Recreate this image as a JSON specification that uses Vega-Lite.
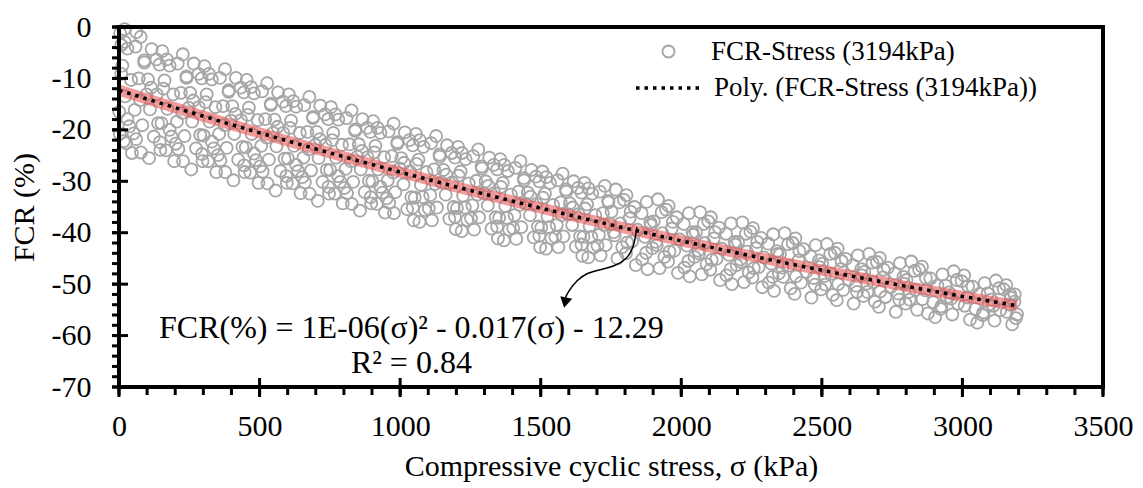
{
  "$schema": "https://vega.github.io/schema/vega-lite/v6.json",
  "width": 984,
  "height": 360,
  "autosize": {"type": "none"},
  "padding": {"left": 119, "top": 27, "right": 40, "bottom": 101},
  "config": {
    "view": {"stroke": null},
    "axis": {"labelFont": "Liberation Serif", "titleFont": "Liberation Serif", "labelColor": "black", "titleColor": "black", "grid": false, "titleFontWeight": "normal", "ticks": false, "domain": false},
    "legend": {"labelFont": "Liberation Serif", "labelColor": "black", "padding": 0, "labelLimit": 0}
  },
  "datasets": {
    "pts": [
      {"s":4,"f":-1.2},{"s":30,"f":-4.2},{"s":12,"f":-7.5},{"s":43,"f":-10.3},{"s":22,"f":-13.5},{"s":1,"f":-16.5},{"s":37,"f":-19.3},{"s":17,"f":-22.2},{"s":46,"f":-24.5},
      {"s":20,"f":-0.4},{"s":62,"f":-1.0},{"s":8,"f":-3.5},{"s":3,"f":-20.8},{"s":25,"f":-22.6},
      {"s":77,"f":-1.9},{"s":59,"f":-3.8},{"s":90,"f":-6.9},{"s":70,"f":-10.0},{"s":98,"f":-13.1},{"s":56,"f":-16.1},{"s":83,"f":-19.1},{"s":61,"f":-21.8},{"s":78,"f":-24.4},
      {"s":116,"f":-4.3},{"s":144,"f":-7.3},{"s":103,"f":-10.2},{"s":134,"f":-13.1},{"s":110,"f":-16.0},{"s":139,"f":-18.7},{"s":124,"f":-21.3},{"s":147,"f":-23.9},{"s":107,"f":-25.5},
      {"s":154,"f":-4.7},{"s":180,"f":-7.5},{"s":162,"f":-10.4},{"s":193,"f":-13.1},{"s":172,"f":-15.9},{"s":151,"f":-18.7},{"s":187,"f":-21.3},{"s":167,"f":-24.0},{"s":196,"f":-26.1},
      {"s":227,"f":-5.3},{"s":209,"f":-7.1},{"s":240,"f":-9.9},{"s":220,"f":-12.8},{"s":248,"f":-15.7},{"s":206,"f":-18.4},{"s":233,"f":-21.2},{"s":211,"f":-23.7},{"s":228,"f":-26.1},
      {"s":266,"f":-7.1},{"s":294,"f":-10.0},{"s":253,"f":-12.8},{"s":284,"f":-15.6},{"s":260,"f":-18.4},{"s":289,"f":-21.0},{"s":274,"f":-23.6},{"s":297,"f":-26.1},{"s":257,"f":-27.7},
      {"s":304,"f":-7.6},{"s":330,"f":-10.2},{"s":312,"f":-13.1},{"s":343,"f":-15.6},{"s":322,"f":-18.4},{"s":301,"f":-21.1},{"s":337,"f":-23.6},{"s":317,"f":-26.1},{"s":346,"f":-28.2},
      {"s":377,"f":-8.2},{"s":359,"f":-9.9},{"s":390,"f":-12.6},{"s":370,"f":-15.4},{"s":398,"f":-18.2},{"s":356,"f":-20.8},{"s":383,"f":-23.5},{"s":361,"f":-25.9},{"s":378,"f":-28.2},
      {"s":416,"f":-9.9},{"s":444,"f":-12.7},{"s":403,"f":-15.4},{"s":434,"f":-18.1},{"s":410,"f":-20.8},{"s":439,"f":-23.3},{"s":424,"f":-25.8},{"s":447,"f":-28.2},{"s":407,"f":-29.8},
      {"s":454,"f":-10.3},{"s":480,"f":-12.9},{"s":462,"f":-15.7},{"s":493,"f":-18.1},{"s":472,"f":-20.8},{"s":451,"f":-23.4},{"s":487,"f":-25.9},{"s":467,"f":-28.3},{"s":496,"f":-30.3},
      {"s":527,"f":-10.9},{"s":509,"f":-12.5},{"s":540,"f":-15.2},{"s":520,"f":-17.9},{"s":548,"f":-20.6},{"s":506,"f":-23.1},{"s":533,"f":-25.8},{"s":511,"f":-28.1},{"s":528,"f":-30.4},
      {"s":566,"f":-12.7},{"s":594,"f":-15.4},{"s":553,"f":-18.0},{"s":584,"f":-20.6},{"s":560,"f":-23.2},{"s":589,"f":-25.6},{"s":574,"f":-28.0},{"s":597,"f":-30.3},{"s":557,"f":-31.8},
      {"s":604,"f":-13.1},{"s":630,"f":-15.5},{"s":612,"f":-18.2},{"s":643,"f":-20.6},{"s":622,"f":-23.1},{"s":601,"f":-25.6},{"s":637,"f":-28.0},{"s":617,"f":-30.4},{"s":646,"f":-32.3},
      {"s":677,"f":-13.6},{"s":659,"f":-15.2},{"s":690,"f":-17.7},{"s":670,"f":-20.4},{"s":698,"f":-22.9},{"s":656,"f":-25.4},{"s":683,"f":-27.9},{"s":661,"f":-30.2},{"s":678,"f":-32.4},
      {"s":716,"f":-15.3},{"s":744,"f":-17.9},{"s":703,"f":-20.4},{"s":734,"f":-22.9},{"s":710,"f":-25.5},{"s":739,"f":-27.8},{"s":724,"f":-30.1},{"s":747,"f":-32.4},{"s":707,"f":-33.8},
      {"s":754,"f":-15.6},{"s":780,"f":-18.0},{"s":762,"f":-20.6},{"s":793,"f":-22.9},{"s":772,"f":-25.4},{"s":751,"f":-27.8},{"s":787,"f":-30.1},{"s":767,"f":-32.4},{"s":796,"f":-34.3},
      {"s":827,"f":-16.2},{"s":809,"f":-17.7},{"s":840,"f":-20.2},{"s":820,"f":-22.8},{"s":848,"f":-25.2},{"s":806,"f":-27.6},{"s":833,"f":-30.1},{"s":811,"f":-32.3},{"s":828,"f":-34.4},
      {"s":866,"f":-17.9},{"s":894,"f":-20.4},{"s":853,"f":-22.8},{"s":884,"f":-25.3},{"s":860,"f":-27.7},{"s":889,"f":-29.9},{"s":874,"f":-32.1},{"s":897,"f":-34.3},{"s":857,"f":-35.7},
      {"s":904,"f":-18.3},{"s":930,"f":-20.6},{"s":912,"f":-23.1},{"s":943,"f":-25.3},{"s":922,"f":-27.7},{"s":901,"f":-30.0},{"s":937,"f":-32.2},{"s":917,"f":-34.4},{"s":946,"f":-36.1},
      {"s":977,"f":-18.8},{"s":959,"f":-20.3},{"s":990,"f":-22.7},{"s":970,"f":-25.1},{"s":998,"f":-27.5},{"s":956,"f":-29.8},{"s":983,"f":-32.1},{"s":961,"f":-34.2},{"s":978,"f":-36.2},
      {"s":1017,"f":-20.5},{"s":1045,"f":-23.0},{"s":1004,"f":-25.5},{"s":1035,"f":-28.1},{"s":1012,"f":-30.6},{"s":1040,"f":-33.1},{"s":1025,"f":-35.4},{"s":1048,"f":-37.6},
      {"s":1056,"f":-20.8},{"s":1083,"f":-23.3},{"s":1065,"f":-25.8},{"s":1094,"f":-28.2},{"s":1074,"f":-30.7},{"s":1052,"f":-33.2},{"s":1088,"f":-35.6},{"s":1069,"f":-37.9},
      {"s":1128,"f":-21.2},{"s":1110,"f":-22.6},{"s":1141,"f":-25.2},{"s":1121,"f":-27.7},{"s":1147,"f":-30.2},{"s":1107,"f":-32.7},{"s":1131,"f":-35.1},{"s":1113,"f":-37.6},
      {"s":1167,"f":-23.0},{"s":1195,"f":-25.4},{"s":1154,"f":-27.8},{"s":1185,"f":-30.2},{"s":1162,"f":-32.6},{"s":1190,"f":-35.0},{"s":1175,"f":-37.3},{"s":1198,"f":-39.3},
      {"s":1206,"f":-23.3},{"s":1233,"f":-25.7},{"s":1215,"f":-28.1},{"s":1244,"f":-30.4},{"s":1224,"f":-32.8},{"s":1202,"f":-35.2},{"s":1238,"f":-37.5},{"s":1219,"f":-39.7},
      {"s":1278,"f":-23.8},{"s":1260,"f":-25.1},{"s":1291,"f":-27.5},{"s":1271,"f":-29.9},{"s":1297,"f":-32.3},{"s":1257,"f":-34.7},{"s":1281,"f":-37.0},{"s":1263,"f":-39.4},
      {"s":1317,"f":-25.4},{"s":1345,"f":-27.7},{"s":1304,"f":-30.0},{"s":1335,"f":-32.3},{"s":1312,"f":-34.7},{"s":1340,"f":-37.0},{"s":1325,"f":-39.2},{"s":1348,"f":-41.1},
      {"s":1356,"f":-25.7},{"s":1383,"f":-28.0},{"s":1365,"f":-30.3},{"s":1394,"f":-32.6},{"s":1374,"f":-34.8},{"s":1352,"f":-37.1},{"s":1388,"f":-39.4},{"s":1369,"f":-41.5},
      {"s":1428,"f":-26.1},{"s":1410,"f":-27.4},{"s":1441,"f":-29.8},{"s":1421,"f":-32.0},{"s":1447,"f":-34.4},{"s":1407,"f":-36.6},{"s":1431,"f":-38.9},{"s":1413,"f":-41.2},
      {"s":1467,"f":-27.8},{"s":1495,"f":-30.0},{"s":1454,"f":-32.2},{"s":1485,"f":-34.4},{"s":1462,"f":-36.6},{"s":1490,"f":-38.8},{"s":1475,"f":-40.9},{"s":1498,"f":-42.8},
      {"s":1506,"f":-28.1},{"s":1533,"f":-30.3},{"s":1515,"f":-32.4},{"s":1544,"f":-34.6},{"s":1524,"f":-36.8},{"s":1502,"f":-39.0},{"s":1538,"f":-41.1},{"s":1519,"f":-43.1},
      {"s":1578,"f":-28.5},{"s":1560,"f":-29.8},{"s":1591,"f":-32.0},{"s":1571,"f":-34.1},{"s":1597,"f":-36.4},{"s":1557,"f":-38.5},{"s":1581,"f":-40.7},{"s":1563,"f":-42.8},
      {"s":1617,"f":-30.0},{"s":1645,"f":-32.2},{"s":1604,"f":-34.3},{"s":1635,"f":-36.4},{"s":1612,"f":-38.5},{"s":1640,"f":-40.7},{"s":1625,"f":-42.7},{"s":1648,"f":-44.5},
      {"s":1656,"f":-30.3},{"s":1683,"f":-32.4},{"s":1665,"f":-34.5},{"s":1694,"f":-36.6},{"s":1674,"f":-38.7},{"s":1652,"f":-40.8},{"s":1688,"f":-42.9},{"s":1669,"f":-44.8},
      {"s":1728,"f":-30.9},{"s":1710,"f":-32.0},{"s":1741,"f":-34.1},{"s":1721,"f":-36.2},{"s":1747,"f":-38.3},{"s":1707,"f":-40.4},{"s":1731,"f":-42.4},{"s":1713,"f":-44.4},
      {"s":1767,"f":-31.6},{"s":1796,"f":-33.6},{"s":1752,"f":-35.9},{"s":1783,"f":-38.2},{"s":1763,"f":-40.5},{"s":1790,"f":-42.8},{"s":1773,"f":-45.0},
      {"s":1805,"f":-32.7},{"s":1834,"f":-35.0},{"s":1816,"f":-37.2},{"s":1844,"f":-39.4},{"s":1825,"f":-41.7},{"s":1803,"f":-44.0},{"s":1838,"f":-46.3},
      {"s":1877,"f":-34.0},{"s":1859,"f":-36.2},{"s":1892,"f":-38.5},{"s":1870,"f":-40.8},{"s":1897,"f":-43.0},{"s":1861,"f":-45.2},{"s":1880,"f":-47.1},
      {"s":1917,"f":-33.5},{"s":1946,"f":-35.5},{"s":1902,"f":-37.8},{"s":1933,"f":-40.1},{"s":1913,"f":-42.4},{"s":1940,"f":-44.7},{"s":1923,"f":-46.9},
      {"s":1955,"f":-34.8},{"s":1984,"f":-37.0},{"s":1966,"f":-39.2},{"s":1994,"f":-41.3},{"s":1975,"f":-43.5},{"s":1953,"f":-45.6},{"s":1988,"f":-47.8},
      {"s":2027,"f":-36.2},{"s":2009,"f":-38.3},{"s":2042,"f":-40.4},{"s":2020,"f":-42.5},{"s":2047,"f":-44.7},{"s":2011,"f":-46.8},{"s":2030,"f":-48.5},
      {"s":2067,"f":-36.0},{"s":2096,"f":-37.8},{"s":2052,"f":-39.9},{"s":2083,"f":-42.0},{"s":2063,"f":-44.0},{"s":2090,"f":-46.1},{"s":2073,"f":-48.1},
      {"s":2105,"f":-37.0},{"s":2134,"f":-39.0},{"s":2116,"f":-41.1},{"s":2144,"f":-43.1},{"s":2125,"f":-45.1},{"s":2103,"f":-47.2},{"s":2138,"f":-49.2},
      {"s":2177,"f":-38.2},{"s":2159,"f":-40.2},{"s":2192,"f":-42.3},{"s":2170,"f":-44.3},{"s":2197,"f":-46.3},{"s":2161,"f":-48.3},{"s":2180,"f":-50.0},
      {"s":2217,"f":-38.0},{"s":2246,"f":-39.8},{"s":2202,"f":-41.8},{"s":2233,"f":-43.7},{"s":2213,"f":-45.7},{"s":2240,"f":-47.7},{"s":2223,"f":-49.6},
      {"s":2255,"f":-39.1},{"s":2284,"f":-41.0},{"s":2266,"f":-43.0},{"s":2294,"f":-44.8},{"s":2275,"f":-46.7},{"s":2253,"f":-48.7},{"s":2288,"f":-50.6},
      {"s":2327,"f":-40.3},{"s":2309,"f":-42.1},{"s":2342,"f":-44.1},{"s":2320,"f":-46.0},{"s":2347,"f":-47.9},{"s":2311,"f":-49.7},{"s":2330,"f":-51.3},
      {"s":2368,"f":-40.1},{"s":2396,"f":-42.0},{"s":2351,"f":-44.2},{"s":2383,"f":-46.4},{"s":2362,"f":-48.6},{"s":2389,"f":-50.8},
      {"s":2406,"f":-41.1},{"s":2435,"f":-43.2},{"s":2417,"f":-45.4},{"s":2445,"f":-47.6},{"s":2426,"f":-49.7},{"s":2403,"f":-51.9},
      {"s":2478,"f":-42.4},{"s":2460,"f":-44.6},{"s":2492,"f":-46.7},{"s":2471,"f":-48.8},{"s":2498,"f":-51.0},{"s":2463,"f":-52.6},
      {"s":2518,"f":-42.2},{"s":2546,"f":-43.9},{"s":2501,"f":-46.0},{"s":2533,"f":-48.0},{"s":2512,"f":-50.1},{"s":2539,"f":-52.1},
      {"s":2556,"f":-43.1},{"s":2585,"f":-45.1},{"s":2567,"f":-47.1},{"s":2595,"f":-49.1},{"s":2576,"f":-51.1},{"s":2553,"f":-53.1},
      {"s":2628,"f":-44.4},{"s":2610,"f":-46.3},{"s":2642,"f":-48.3},{"s":2621,"f":-50.3},{"s":2648,"f":-52.3},{"s":2613,"f":-53.8},
      {"s":2668,"f":-44.1},{"s":2696,"f":-45.7},{"s":2651,"f":-47.6},{"s":2683,"f":-49.6},{"s":2662,"f":-51.5},{"s":2689,"f":-53.4},
      {"s":2706,"f":-44.9},{"s":2735,"f":-46.8},{"s":2717,"f":-48.7},{"s":2745,"f":-50.6},{"s":2726,"f":-52.5},{"s":2703,"f":-54.4},
      {"s":2778,"f":-45.9},{"s":2760,"f":-47.9},{"s":2792,"f":-49.9},{"s":2771,"f":-51.8},{"s":2798,"f":-53.8},{"s":2763,"f":-55.4},
      {"s":2818,"f":-45.6},{"s":2846,"f":-47.2},{"s":2801,"f":-49.2},{"s":2833,"f":-51.1},{"s":2812,"f":-53.0},{"s":2839,"f":-55.0},
      {"s":2856,"f":-46.6},{"s":2886,"f":-48.9},{"s":2868,"f":-51.2},{"s":2896,"f":-53.5},{"s":2877,"f":-55.7},
      {"s":2929,"f":-48.1},{"s":2911,"f":-50.3},{"s":2943,"f":-52.6},{"s":2922,"f":-54.8},{"s":2903,"f":-56.4},
      {"s":2969,"f":-47.5},{"s":2997,"f":-49.4},{"s":2952,"f":-51.6},{"s":2984,"f":-53.8},{"s":2964,"f":-55.9},
      {"s":3006,"f":-48.3},{"s":3036,"f":-50.5},{"s":3018,"f":-52.6},{"s":3046,"f":-54.8},{"s":3027,"f":-56.9},
      {"s":3079,"f":-49.8},{"s":3061,"f":-51.9},{"s":3093,"f":-54.0},{"s":3072,"f":-56.0},{"s":3053,"f":-57.5},
      {"s":3119,"f":-49.3},{"s":3147,"f":-51.0},{"s":3102,"f":-53.0},{"s":3134,"f":-55.1},{"s":3114,"f":-57.1},
      {"s":3156,"f":-50.2},{"s":3186,"f":-52.0},{"s":3168,"f":-54.0},{"s":3194,"f":-55.9},{"s":3177,"f":-57.8},
      {"s":3185,"f":-53.4},{"s":3190,"f":-56.6},{"s":3172,"f":-52.6},
      {"s":20,"f":-2.9},{"s":8,"f":-9.1},{"s":30,"f":-17.9},
      {"s":90,"f":-6.5},{"s":75,"f":-14.2},{"s":52,"f":-20.7},
      {"s":133,"f":-6.3},{"s":114,"f":-11.8},{"s":145,"f":-22.4},
      {"s":170,"f":-6.3},{"s":158,"f":-12.0},{"s":180,"f":-20.0},
      {"s":240,"f":-9.6},{"s":225,"f":-16.7},{"s":202,"f":-22.7},
      {"s":283,"f":-9.1},{"s":264,"f":-14.3},{"s":295,"f":-24.7},
      {"s":320,"f":-9.1},{"s":308,"f":-14.6},{"s":330,"f":-22.3},
      {"s":390,"f":-12.3},{"s":375,"f":-19.1},{"s":352,"f":-24.9},
      {"s":433,"f":-11.8},{"s":414,"f":-16.9},{"s":445,"f":-26.9},
      {"s":470,"f":-11.7},{"s":458,"f":-17.1},{"s":480,"f":-24.6},
      {"s":540,"f":-14.9},{"s":525,"f":-21.5},{"s":502,"f":-27.1},
      {"s":583,"f":-14.5},{"s":564,"f":-19.4},{"s":595,"f":-29.0},
      {"s":620,"f":-14.4},{"s":608,"f":-19.6},{"s":630,"f":-26.8},
      {"s":690,"f":-17.5},{"s":675,"f":-23.8},{"s":652,"f":-29.2},
      {"s":733,"f":-17.0},{"s":714,"f":-21.8},{"s":745,"f":-31.1},
      {"s":770,"f":-17.0},{"s":758,"f":-22.0},{"s":780,"f":-29.0},
      {"s":840,"f":-19.9},{"s":825,"f":-26.1},{"s":802,"f":-31.3},
      {"s":883,"f":-19.6},{"s":864,"f":-24.1},{"s":895,"f":-33.1},
      {"s":920,"f":-19.6},{"s":908,"f":-24.4},{"s":930,"f":-31.1},
      {"s":990,"f":-22.4},{"s":975,"f":-28.3},{"s":952,"f":-33.3},
      {"s":1033,"f":-22.0},{"s":1014,"f":-26.4},{"s":1045,"f":-35.1},
      {"s":1070,"f":-22.0},{"s":1058,"f":-26.6},{"s":1080,"f":-33.1},
      {"s":1140,"f":-24.8},{"s":1125,"f":-30.5},{"s":1102,"f":-35.3},
      {"s":1183,"f":-24.5},{"s":1164,"f":-28.7},{"s":1195,"f":-36.9},
      {"s":1220,"f":-24.5},{"s":1208,"f":-28.9},{"s":1230,"f":-35.1},
      {"s":1290,"f":-27.1},{"s":1275,"f":-32.6},{"s":1252,"f":-37.2},
      {"s":1333,"f":-26.8},{"s":1314,"f":-30.9},{"s":1345,"f":-38.8},
      {"s":1370,"f":-26.8},{"s":1358,"f":-31.1},{"s":1380,"f":-37.1},
      {"s":1440,"f":-29.4},{"s":1425,"f":-34.6},{"s":1402,"f":-39.1},
      {"s":1483,"f":-29.1},{"s":1464,"f":-33.0},{"s":1495,"f":-40.6},
      {"s":1520,"f":-29.2},{"s":1508,"f":-33.2},{"s":1530,"f":-38.9},
      {"s":1590,"f":-31.6},{"s":1575,"f":-36.6},{"s":1552,"f":-40.8},
      {"s":1633,"f":-31.3},{"s":1614,"f":-35.1},{"s":1645,"f":-42.3},
      {"s":1670,"f":-31.4},{"s":1658,"f":-35.3},{"s":1680,"f":-40.8},
      {"s":1740,"f":-33.8},{"s":1725,"f":-38.5},{"s":1702,"f":-42.5},
      {"s":1780,"f":-34.1},{"s":1760,"f":-39.9},{"s":1820,"f":-35.9},{"s":1808,"f":-41.9},
      {"s":1890,"f":-38.0},{"s":1875,"f":-43.9},{"s":1930,"f":-36.0},{"s":1910,"f":-41.8},
      {"s":1970,"f":-37.9},{"s":1958,"f":-43.7},{"s":2040,"f":-39.9},{"s":2025,"f":-45.5},
      {"s":2080,"f":-38.3},{"s":2060,"f":-43.5},{"s":2120,"f":-39.9},{"s":2108,"f":-45.3},
      {"s":2190,"f":-41.8},{"s":2175,"f":-47.1},{"s":2230,"f":-40.2},{"s":2210,"f":-45.2},
      {"s":2270,"f":-41.8},{"s":2258,"f":-46.9},{"s":2340,"f":-43.6},{"s":2325,"f":-48.6},
      {"s":2380,"f":-42.2},{"s":2360,"f":-46.8},{"s":2420,"f":-43.6},{"s":2408,"f":-48.5},
      {"s":2490,"f":-45.4},{"s":2475,"f":-50.1},{"s":2530,"f":-44.1},{"s":2510,"f":-48.4},
      {"s":2570,"f":-45.5},{"s":2558,"f":-50.0},{"s":2640,"f":-47.1},{"s":2625,"f":-51.5},
      {"s":2680,"f":-45.8},{"s":2660,"f":-49.9},{"s":2720,"f":-47.2},{"s":2708,"f":-51.4},
      {"s":2790,"f":-48.6},{"s":2775,"f":-53.0},{"s":2830,"f":-47.4},{"s":2810,"f":-51.5},
      {"s":2870,"f":-48.8},{"s":2858,"f":-52.9},{"s":2940,"f":-50.3},{"s":2925,"f":-54.3},
      {"s":2980,"f":-49.2},{"s":2960,"f":-52.8},{"s":3020,"f":-50.4},{"s":3008,"f":-54.2},
      {"s":3090,"f":-51.8},{"s":3075,"f":-55.5},{"s":3130,"f":-50.8},{"s":3110,"f":-54.2},
      {"s":3170,"f":-52.0},{"s":3158,"f":-55.4}
    ],
    "tr": [
      {"s":0,"f":-12.3},{"s":200,"f":-15.69},{"s":400,"f":-18.98},{"s":600,"f":-22.16},{"s":800,"f":-25.24},
      {"s":1000,"f":-28.22},{"s":1200,"f":-31.1},{"s":1400,"f":-33.87},{"s":1600,"f":-36.54},{"s":1800,"f":-39.11},
      {"s":2000,"f":-41.58},{"s":2200,"f":-43.95},{"s":2400,"f":-46.21},{"s":2600,"f":-48.37},{"s":2800,"f":-50.43},
      {"s":3000,"f":-52.38},{"s":3194,"f":-54.2}
    ],
    "eq": [
      {"s":1040,"f":-58.5,"t":"FCR(%) = 1E-06(σ)² - 0.017(σ) - 12.29"},
      {"s":1040,"f":-65.3,"t":"R² = 0.84"}
    ],
    "ar": [
      {"s":1842,"f":-38.9,"o":1},{"s":1832,"f":-42.8,"o":2},{"s":1807,"f":-45.1,"o":3},{"s":1764,"f":-46.5,"o":4},
      {"s":1711,"f":-47.2,"o":5},{"s":1665,"f":-47.8,"o":6},{"s":1629,"f":-49.2,"o":7},{"s":1597,"f":-51.5,"o":8},{"s":1588,"f":-52.6,"o":9}
    ],
    "hd": [{"s":1587,"f":-53.6}],
    "fr": [{"s":0,"f":-70,"o":1},{"s":0,"f":0,"o":2},{"s":3500,"f":0,"o":3},{"s":3500,"f":-70,"o":4},{"s":0,"f":-70,"o":5}],
    "xM": [{"v":0,"w":-70},{"v":500,"w":-70},{"v":1000,"w":-70},{"v":1500,"w":-70},{"v":2000,"w":-70},{"v":2500,"w":-70},{"v":3000,"w":-70},{"v":3500,"w":-70}],
    "xm": [{"v":0,"w":-70},{"v":100,"w":-70},{"v":200,"w":-70},{"v":300,"w":-70},{"v":400,"w":-70},{"v":500,"w":-70},{"v":600,"w":-70},{"v":700,"w":-70},{"v":800,"w":-70},{"v":900,"w":-70},{"v":1000,"w":-70},{"v":1100,"w":-70},{"v":1200,"w":-70},{"v":1300,"w":-70},{"v":1400,"w":-70},{"v":1500,"w":-70},{"v":1600,"w":-70},{"v":1700,"w":-70},{"v":1800,"w":-70},{"v":1900,"w":-70},{"v":2000,"w":-70},{"v":2100,"w":-70},{"v":2200,"w":-70},{"v":2300,"w":-70},{"v":2400,"w":-70},{"v":2500,"w":-70},{"v":2600,"w":-70},{"v":2700,"w":-70},{"v":2800,"w":-70},{"v":2900,"w":-70},{"v":3000,"w":-70},{"v":3100,"w":-70},{"v":3200,"w":-70},{"v":3300,"w":-70},{"v":3400,"w":-70},{"v":3500,"w":-70}],
    "yM": [{"v":-70,"w":0},{"v":-60,"w":0},{"v":-50,"w":0},{"v":-40,"w":0},{"v":-30,"w":0},{"v":-20,"w":0},{"v":-10,"w":0},{"v":0,"w":0}],
    "ym": [{"v":-70,"w":0},{"v":-68,"w":0},{"v":-66,"w":0},{"v":-64,"w":0},{"v":-62,"w":0},{"v":-60,"w":0},{"v":-58,"w":0},{"v":-56,"w":0},{"v":-54,"w":0},{"v":-52,"w":0},{"v":-50,"w":0},{"v":-48,"w":0},{"v":-46,"w":0},{"v":-44,"w":0},{"v":-42,"w":0},{"v":-40,"w":0},{"v":-38,"w":0},{"v":-36,"w":0},{"v":-34,"w":0},{"v":-32,"w":0},{"v":-30,"w":0},{"v":-28,"w":0},{"v":-26,"w":0},{"v":-24,"w":0},{"v":-22,"w":0},{"v":-20,"w":0},{"v":-18,"w":0},{"v":-16,"w":0},{"v":-14,"w":0},{"v":-12,"w":0},{"v":-10,"w":0},{"v":-8,"w":0},{"v":-6,"w":0},{"v":-4,"w":0},{"v":-2,"w":0},{"v":0,"w":0}]
  },
  "layer": [
    {
      "data": {"name": "pts"},
      "mark": {"type": "point", "filled": false, "stroke": "#a6a6a6", "strokeWidth": 1.8, "size": 145, "opacity": 1},
      "encoding": {
        "x": {"field": "s", "type": "quantitative", "scale": {"domain": [0, 3500], "nice": false, "zero": false},
          "axis": {"orient": "bottom", "values": [0,500,1000,1500,2000,2500,3000,3500], "title": "Compressive cyclic stress, σ (kPa)", "labelFontSize": 30, "titleFontSize": 30, "labelPadding": 24, "titlePadding": 10, "labelFlush": false, "labelExpr": "'' + datum.value"}},
        "y": {"field": "f", "type": "quantitative", "scale": {"domain": [-70, 0], "nice": false, "zero": false},
          "axis": {"orient": "left", "values": [-70,-60,-50,-40,-30,-20,-10,0], "title": "FCR (%)", "labelFontSize": 30, "titleFontSize": 30, "labelPadding": 28, "titlePadding": 12, "labelFlush": false, "labelExpr": "'' + datum.value"}},
        "shape": {"datum": "FCR-Stress (3194kPa)", "type": "nominal", "scale": {"range": ["circle"]},
          "legend": {"orient": "none", "legendX": 536, "legendY": 11, "title": null, "labelFontSize": 27, "labelLimit": 0, "symbolStrokeColor": "#a6a6a6", "symbolFillColor": "transparent", "symbolStrokeWidth": 1.8, "symbolSize": 145, "labelOffset": 29}}
      }
    },
    {
      "data": {"name": "tr"},
      "mark": {"type": "line", "color": "#e85a5a", "strokeWidth": 11, "opacity": 0.6},
      "encoding": {
        "x": {"field": "s", "type": "quantitative"},
        "y": {"field": "f", "type": "quantitative"}
      }
    },
    {
      "data": {"name": "tr"},
      "mark": {"type": "line", "strokeWidth": 3.5, "strokeCap": "butt", "strokeDash": [3.5, 5]},
      "encoding": {
        "x": {"field": "s", "type": "quantitative"},
        "y": {"field": "f", "type": "quantitative"},
        "color": {"datum": "Poly. (FCR-Stress (3194kPa))", "type": "nominal", "scale": {"range": ["black"]},
          "legend": {"orient": "none", "legendX": 515, "legendY": 25, "title": null, "labelFontSize": 27, "labelLimit": 0, "symbolType": "stroke", "symbolSize": 4624, "symbolStrokeColor": "black", "symbolStrokeWidth": 3.5, "symbolDash": [3.5, 5], "labelOffset": 8}}
      }
    },
    {
      "data": {"name": "eq"},
      "mark": {"type": "text", "font": "Liberation Serif", "fontSize": 32, "color": "black", "align": "center", "baseline": "middle"},
      "encoding": {
        "x": {"field": "s", "type": "quantitative"},
        "y": {"field": "f", "type": "quantitative"},
        "text": {"field": "t"}
      }
    },
    {
      "data": {"name": "ar"},
      "mark": {"type": "line", "color": "black", "strokeWidth": 1.5, "interpolate": "basis"},
      "encoding": {
        "x": {"field": "s", "type": "quantitative"},
        "y": {"field": "f", "type": "quantitative"},
        "order": {"field": "o"}
      }
    },
    {
      "data": {"name": "hd"},
      "mark": {"type": "point", "shape": "triangle-down", "filled": true, "color": "black", "size": 150, "angle": 12, "opacity": 1},
      "encoding": {
        "x": {"field": "s", "type": "quantitative"},
        "y": {"field": "f", "type": "quantitative"}
      }
    },
    {
      "data": {"name": "fr"},
      "mark": {"type": "line", "color": "black", "strokeWidth": 4, "strokeCap": "square", "strokeJoin": "miter"},
      "encoding": {
        "x": {"field": "s", "type": "quantitative"},
        "y": {"field": "f", "type": "quantitative"},
        "order": {"field": "o"}
      }
    },
    {
      "data": {"name": "xM"},
      "mark": {"type": "point", "shape": "M0,-0.9L0,1", "filled": false, "color": "black", "strokeWidth": 3, "size": 400, "opacity": 1},
      "encoding": {
        "x": {"field": "v", "type": "quantitative"},
        "y": {"field": "w", "type": "quantitative"}
      }
    },
    {
      "data": {"name": "xm"},
      "mark": {"type": "point", "shape": "M0,0L0,1", "filled": false, "color": "black", "strokeWidth": 3, "size": 256, "opacity": 1},
      "encoding": {
        "x": {"field": "v", "type": "quantitative"},
        "y": {"field": "w", "type": "quantitative"}
      }
    },
    {
      "data": {"name": "yM"},
      "mark": {"type": "point", "shape": "M-0.78,0L1,0", "filled": false, "color": "black", "strokeWidth": 3, "size": 324, "opacity": 1},
      "encoding": {
        "y": {"field": "v", "type": "quantitative"},
        "x": {"field": "w", "type": "quantitative"}
      }
    },
    {
      "data": {"name": "ym"},
      "mark": {"type": "point", "shape": "M-1,0L0,0", "filled": false, "color": "black", "strokeWidth": 3, "size": 196, "opacity": 1},
      "encoding": {
        "y": {"field": "v", "type": "quantitative"},
        "x": {"field": "w", "type": "quantitative"}
      }
    }
  ]
}
